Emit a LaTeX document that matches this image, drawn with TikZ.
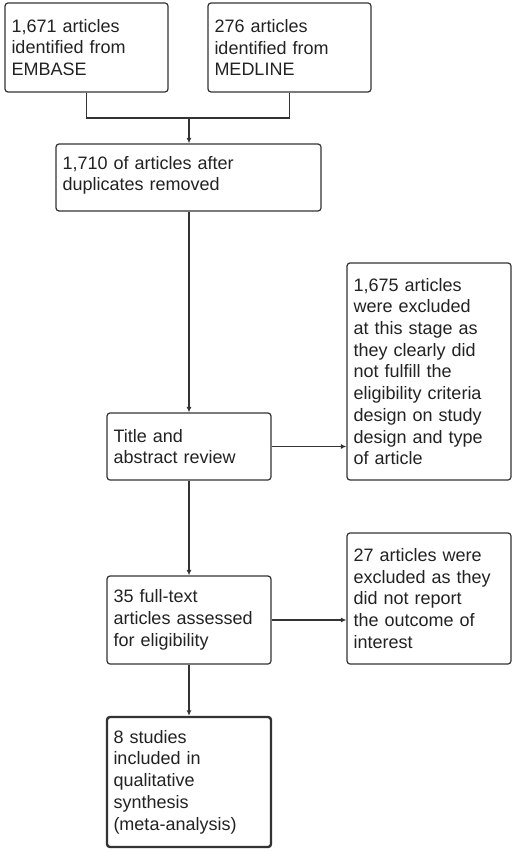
\documentclass[tikz,border=0pt]{standalone}
\usepackage{fontspec}
\setmainfont{Liberation Sans}
\usetikzlibrary{arrows.meta}
\definecolor{linec}{HTML}{333333}
\definecolor{textc}{HTML}{222222}
\begin{document}
\begin{tikzpicture}[x=1pt,y=-1pt,
  box/.style={draw=linec, line width=1.2pt, rounded corners=3pt, align=left,
    text=textc, inner xsep=6.5pt, inner ysep=0pt, anchor=center,
    font=\fontsize{18}{21.7}\selectfont},
  finalbox/.style={box, line width=2.4pt},
  conn/.style={draw=linec, line width=1.2pt},
  arr/.style={conn, -{Latex[length=5.5pt,width=5pt]}}]
\useasboundingbox (0,0) rectangle (512,853);
\node[box, minimum width=163pt, minimum height=89pt, text width=150pt] (A) at (86.5,47.5)
  {1,671 articles\\identified from\\EMBASE};
\node[box, minimum width=163pt, minimum height=89pt, text width=150pt] (B) at (289.5,47.5)
  {276 articles\\identified from\\MEDLINE};
\node[box, minimum width=265pt, minimum height=67pt, text width=252pt] (C) at (188.5,177.5)
  {1,710 of articles after\\duplicates removed\vphantom{g}\rule[-8pt]{0pt}{0pt}};
\node[box, minimum width=164pt, minimum height=67pt, text width=151pt] (T) at (189,446.5)
  {Title and\\abstract review};
\node[box, minimum width=164pt, minimum height=217pt, text width=151pt] (E1) at (429,371.5)
  {1,675 articles\\were excluded\\at this stage as\\they clearly did\\not fulfill the\\eligibility criteria\\design on study\\design and type\\of article};
\node[box, minimum width=164pt, minimum height=88pt, text width=151pt] (F) at (189,620)
  {35 full-text\\articles assessed\\for eligibility};
\node[box, minimum width=164pt, minimum height=131pt, text width=151pt] (E2) at (429,598.5)
  {27 articles were\\excluded as they\\did not report\\the outcome of\\interest};
\node[finalbox, minimum width=164pt, minimum height=130pt, text width=151pt] (S) at (189,782)
  {8 studies\\included in\\qualitative\\synthesis\\(meta-analysis)};
\coordinate (j) at (189,118);
\draw[conn] (A.south) |- (j);
\draw[conn] (B.south) |- (j);
\draw[arr] (j) -- (j |- C.north);
\draw[arr] (C.south -| T.north) -- (T.north);
\draw[arr] (T.east) -- (T.east -| E1.west);
\draw[arr] (T.south) -- (F.north);
\draw[arr] (F.east) -- (F.east -| E2.west);
\draw[arr] (F.south) -- (S.north);
\end{tikzpicture}
\end{document}
